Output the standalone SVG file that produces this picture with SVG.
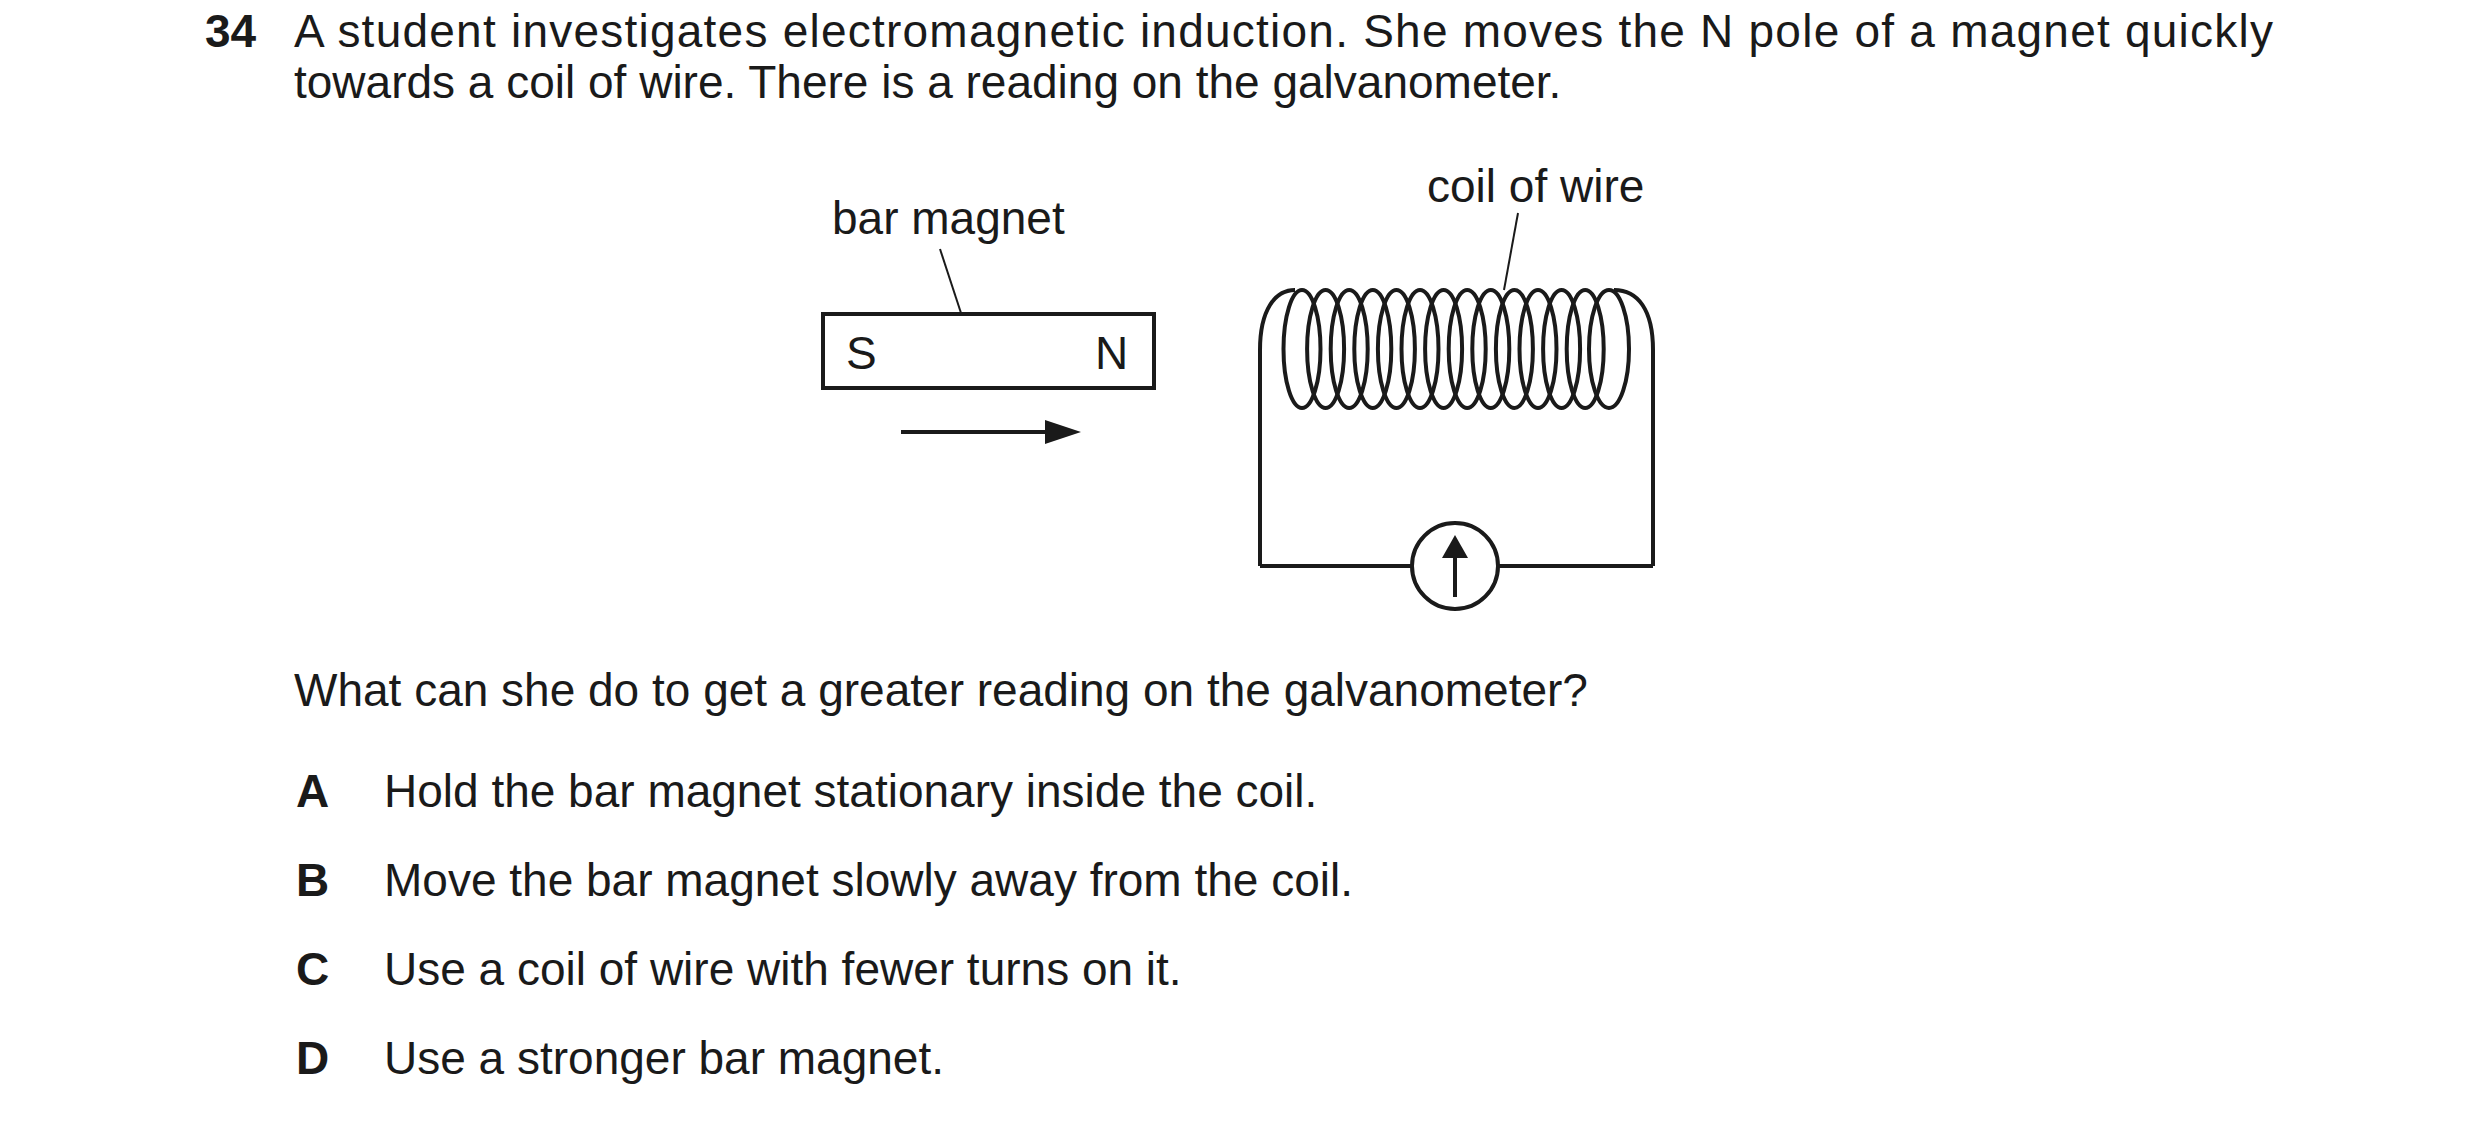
<svg xmlns="http://www.w3.org/2000/svg" width="2480" height="1125" viewBox="0 0 2480 1125">
<style>
text{font-family:"Liberation Sans",Arial,sans-serif;font-size:46px;fill:#1a1a1a}
.b{font-weight:bold}
.ln{stroke:#1a1a1a;fill:none;stroke-width:4}
.th{stroke:#1a1a1a;fill:none;stroke-width:2}
</style>
<rect width="2480" height="1125" fill="#fff"/>
<g id="question">
<text x="205" y="47" class="b">34</text>
<text x="294" y="47" textLength="1979" lengthAdjust="spacing">A student investigates electromagnetic induction. She moves the N pole of a magnet quickly</text>
<text x="294" y="98">towards a coil of wire. There is a reading on the galvanometer.</text>
<text x="294" y="706">What can she do to get a greater reading on the galvanometer?</text>
<text x="296" y="807" class="b">A</text><text x="384" y="807">Hold the bar magnet stationary inside the coil.</text>
<text x="296" y="896" class="b">B</text><text x="384" y="896">Move the bar magnet slowly away from the coil.</text>
<text x="296" y="985" class="b">C</text><text x="384" y="985">Use a coil of wire with fewer turns on it.</text>
<text x="296" y="1074" class="b">D</text><text x="384" y="1074">Use a stronger bar magnet.</text>
</g>
<g id="magnet">
<text x="832" y="234">bar magnet</text>
<line x1="940" y1="249" x2="961" y2="313" class="th"/>
<rect x="823" y="314" width="331" height="74" class="ln"/>
<text x="846" y="369">S</text>
<text x="1095" y="369">N</text>
<line x1="901" y1="432" x2="1050" y2="432" class="ln"/>
<polygon points="1045,420 1081,432 1045,444" fill="#1a1a1a"/>
</g>
<g id="coil">
<text x="1427" y="202">coil of wire</text>
<line x1="1518" y1="213" x2="1504" y2="290" class="th"/>
<g class="ln" stroke-width="3.5">
<path d="M1260,566 V350 C1260,310 1275,290 1295,290"/>
<path d="M1653,566 V350 C1653,310 1638,290 1614,290"/>
<ellipse cx="1302" cy="349" rx="18.5" ry="59"/>
<ellipse cx="1325.6" cy="349" rx="18.5" ry="59"/>
<ellipse cx="1349.2" cy="349" rx="18.5" ry="59"/>
<ellipse cx="1372.8" cy="349" rx="18.5" ry="59"/>
<ellipse cx="1396.4" cy="349" rx="18.5" ry="59"/>
<ellipse cx="1420" cy="349" rx="18.5" ry="59"/>
<ellipse cx="1443.6" cy="349" rx="18.5" ry="59"/>
<ellipse cx="1467.2" cy="349" rx="18.5" ry="59"/>
<ellipse cx="1490.8" cy="349" rx="18.5" ry="59"/>
<ellipse cx="1514.4" cy="349" rx="18.5" ry="59"/>
<ellipse cx="1538" cy="349" rx="18.5" ry="59"/>
<ellipse cx="1561.6" cy="349" rx="18.5" ry="59"/>
<ellipse cx="1585.2" cy="349" rx="18.5" ry="59"/>
<ellipse cx="1609" cy="349" rx="20" ry="59"/>
</g>
</g>
<g id="connectors">
<path d="M1260,566 H1412 M1498,566 H1653" class="ln"/>
</g>
<g id="galvanometer">
<circle cx="1455" cy="566" r="43" class="ln"/>
<line x1="1455" y1="597" x2="1455" y2="555" class="ln"/>
<polygon points="1442,558 1455,535 1468,558" fill="#1a1a1a"/>
</g>
</svg>
